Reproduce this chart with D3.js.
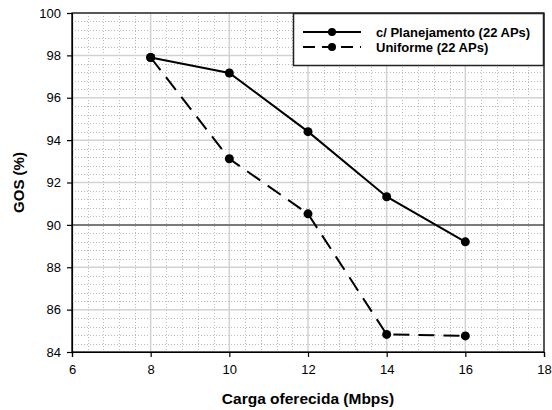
<!DOCTYPE html>
<html>
<head>
<meta charset="utf-8">
<script src="https://cdn.jsdelivr.net/npm/d3@7"></script>
<style>
  body { margin: 0; background: #fff; }
  svg { display: block; font-family: "Liberation Sans", Arial, sans-serif; }
</style>
</head>
<body>
<svg id="chart" width="552" height="410"></svg>
<script>
// data
var cargas = [8, 10, 12, 14, 16];
var planejamento = [97.9, 97.17, 94.4, 91.33, 89.2];
var uniforme = [97.9, 93.12, 90.52, 84.83, 84.76];
var seriesNames = ["c/ Planejamento (22 APs)", "Uniforme (22 APs)"];
var xTicks = [6, 8, 10, 12, 14, 16, 18];
var yTicks = [84, 86, 88, 90, 92, 94, 96, 98, 100];

var width = 552, height = 410;
// plot area (window.top is reserved, so no "top" here)
var pLeft = 72, pRight = 544, pTop = 13, pBottom = 352;

var svg = d3.select("#chart");

var x = d3.scaleLinear().domain([6, 18]).range([pLeft, pRight]);
var y = d3.scaleLinear().domain([84, 100]).range([pBottom, pTop]);

// minor grid, every 0.4
var minorX = d3.range(6, 18.001, 0.4).filter(function(v) { return Math.abs(v / 2 - Math.round(v / 2)) > 0.01; });
var minorY = d3.range(84, 100.001, 0.4).filter(function(v) { return Math.abs(v / 2 - Math.round(v / 2)) > 0.01; });

var grid = svg.append("g");
grid.selectAll(".mx").data(minorX).enter().append("line")
    .attr("x1", function(d) { return Math.round(x(d)) + 0.5; })
    .attr("x2", function(d) { return Math.round(x(d)) + 0.5; })
    .attr("y1", pTop).attr("y2", pBottom)
    .attr("stroke", "#bcbcbc").attr("stroke-width", 1).attr("stroke-dasharray", "1,2");
grid.selectAll(".my").data(minorY).enter().append("line")
    .attr("y1", function(d) { return Math.round(y(d)) + 0.5; })
    .attr("y2", function(d) { return Math.round(y(d)) + 0.5; })
    .attr("x1", pLeft).attr("x2", pRight)
    .attr("stroke", "#bcbcbc").attr("stroke-width", 1).attr("stroke-dasharray", "1,2");

// major grid
grid.selectAll(".Mx").data(xTicks).enter().append("line")
    .attr("x1", function(d) { return x(d); })
    .attr("x2", function(d) { return x(d); })
    .attr("y1", pTop).attr("y2", pBottom)
    .attr("stroke", "#d2d2d2").attr("stroke-width", 1.5);
grid.selectAll(".My").data(yTicks).enter().append("line")
    .attr("y1", function(d) { return y(d); })
    .attr("y2", function(d) { return y(d); })
    .attr("x1", pLeft).attr("x2", pRight)
    .attr("stroke", function(d) { return d == 90 ? "#7a7a7a" : "#d2d2d2"; })
    .attr("stroke-width", function(d) { return d == 90 ? 2 : 1.5; });

// plot border
svg.append("rect")
    .attr("x", pLeft).attr("y", pTop)
    .attr("width", pRight - pLeft).attr("height", pBottom - pTop)
    .attr("fill", "none").attr("stroke", "#000").attr("stroke-width", 1.2);

// axes
var xAxis = svg.append("g")
    .attr("transform", "translate(0," + pBottom + ")")
    .call(d3.axisBottom(x).tickValues(xTicks).tickSize(5).tickPadding(8));
var yAxis = svg.append("g")
    .attr("transform", "translate(" + pLeft + ",0)")
    .call(d3.axisLeft(y).tickValues(yTicks).tickSize(5).tickPadding(6));
[xAxis, yAxis].forEach(function(a) {
    a.select(".domain").attr("stroke", "#000").attr("stroke-width", 1.2);
    a.selectAll(".tick line").attr("stroke", "#000").attr("stroke-width", 1.2);
    a.selectAll("text").attr("font-size", 13).attr("fill", "#000")
        .attr("font-family", "Liberation Sans, Arial, sans-serif");
});

// series
var line = d3.line()
    .x(function(d) { return x(d[0]); })
    .y(function(d) { return y(d[1]); });

var series = [
    { name: seriesNames[0], values: d3.zip(cargas, planejamento), dash: null },
    { name: seriesNames[1], values: d3.zip(cargas, uniforme), dash: "16,9" }
];

series.forEach(function(s) {
    svg.append("path")
        .attr("d", line(s.values))
        .attr("fill", "none").attr("stroke", "#000").attr("stroke-width", 2)
        .attr("stroke-dasharray", s.dash);
    svg.selectAll(null).data(s.values).enter().append("circle")
        .attr("cx", function(d) { return x(d[0]); })
        .attr("cy", function(d) { return y(d[1]); })
        .attr("r", 4.5).attr("fill", "#000");
});

// legend
var legend = svg.append("g");
legend.append("rect")
    .attr("x", 293.5).attr("y", 13.5).attr("width", 250).attr("height", 52)
    .attr("fill", "#fff").attr("stroke", "#222").attr("stroke-width", 1.5);
series.forEach(function(s, i) {
    var ly = 32 + i * 15;
    legend.append("line")
        .attr("x1", 303).attr("x2", 361).attr("y1", ly).attr("y2", ly)
        .attr("stroke", "#000").attr("stroke-width", 2)
        .attr("stroke-dasharray", s.dash ? "12,7" : null);
    legend.append("circle").attr("cx", 332).attr("cy", ly).attr("r", 4).attr("fill", "#000");
    legend.append("text")
        .attr("x", 376).attr("y", ly + 4.8)
        .attr("font-size", 13).attr("font-weight", "bold")
        .text(s.name);
});

// axis titles
svg.append("text")
    .attr("x", (pLeft + pRight) / 2).attr("y", 404)
    .attr("text-anchor", "middle").attr("font-size", 15.5).attr("font-weight", "bold")
    .text("Carga oferecida (Mbps)");
svg.append("text")
    .attr("transform", "translate(24," + (pTop + pBottom) / 2 + ") rotate(-90)")
    .attr("text-anchor", "middle").attr("font-size", 15).attr("font-weight", "bold")
    .text("GOS (%)");
</script>
</body>
</html>
